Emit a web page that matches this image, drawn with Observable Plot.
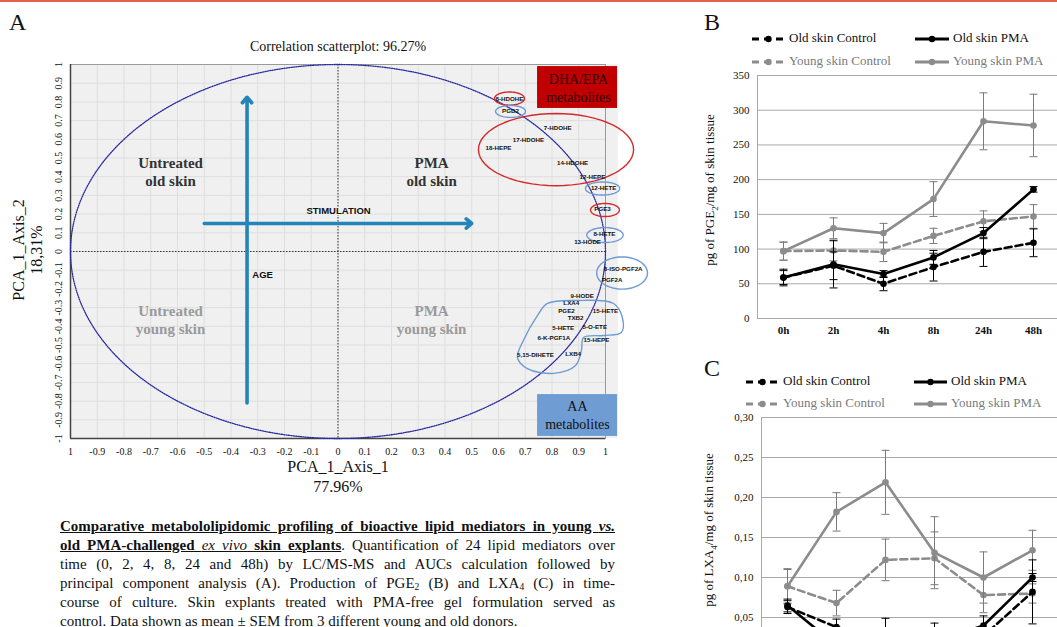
<!DOCTYPE html>
<html><head><meta charset="utf-8">
<script src="https://cdn.jsdelivr.net/npm/d3@7"></script>
<script src="https://cdn.jsdelivr.net/npm/@observablehq/plot@0.6"></script>
<style>
html,body{margin:0;padding:0;background:#fff;}
body{width:1057px;height:627px;overflow:hidden;position:relative;font-family:"Liberation Serif",serif;color:#111;}
.abs{position:absolute;white-space:nowrap;}
.ctr{transform:translateX(-50%);text-align:center;}
.leg{position:absolute;font-size:13px;line-height:14px;white-space:nowrap;}
.leg svg{position:absolute;}
.cap{position:absolute;left:60px;width:555px;font-size:15px;line-height:19px;}
.cap div{text-align:justify;text-align-last:justify;white-space:nowrap;height:19px;}
.cap div.last{text-align-last:left;}
.cap sub{font-size:9.5px;vertical-align:-2px;line-height:0;}
.ttl{font-weight:bold;text-decoration:underline;}
.plotbox{position:absolute;}
</style></head><body>
<div class="abs" style="left:0;top:0;width:1057px;height:2px;background:#e4604e"></div>
<div class="abs" style="left:9px;top:9px;font-size:24px;">A</div>
<div class="abs ctr" style="left:338px;top:39px;font-size:14px;">Correlation scatterplot: 96.27%</div>
<div class="abs" style="left:28px;top:250px;transform:translate(-50%,-50%) rotate(-90deg);font-size:16px;line-height:18px;text-align:center;">PCA_1_Axis_2<br>18,31%</div>
<div class="abs ctr" style="left:338px;top:457px;font-size:16px;line-height:20px;">PCA_1_Axis_1<br>77.96%</div>
<div id="pA" class="plotbox" style="left:0;top:0;width:660px;height:500px;"></div>

<div class="abs" style="left:704px;top:9px;font-size:24px;">B</div>
<div id="legB"></div>
<div class="abs" style="left:711px;top:190px;transform:translate(-50%,-50%) rotate(-90deg);font-size:13px;">pg of PGE<sub style="font-size:9px">2</sub>/mg of skin tissue</div>
<div id="pB" class="plotbox" style="left:700px;top:60px;width:370px;height:300px;"></div>

<div class="abs" style="left:704px;top:355px;font-size:24px;">C</div>
<div id="legC"></div>
<div class="abs" style="left:710px;top:530px;transform:translate(-50%,-50%) rotate(-90deg);font-size:13px;">pg of LXA<sub style="font-size:9px">4</sub>/mg of skin tissue</div>
<div id="pC" class="plotbox" style="left:700px;top:400px;width:360px;height:287px;"></div>

<div class="cap" style="top:517px;">
<div><span class="ttl">Comparative metabololipidomic profiling of bioactive lipid mediators in young <i>vs.</i></span></div>
<div><span class="ttl">old PMA-challenged <i style="font-weight:normal">ex vivo</i> skin explants</span>. Quantification of 24 lipid mediators over</div>
<div>time (0, 2, 4, 8, 24 and 48h) by LC/MS-MS and AUCs calculation followed by</div>
<div>principal component analysis (A). Production of PGE<sub>2</sub> (B) and LXA<sub>4</sub> (C) in time-</div>
<div>course of culture. Skin explants treated with PMA-free gel formulation served as</div>
<div class="last">control. Data shown as mean ± SEM from 3 different young and old donors.</div>
</div>

<script>
// ---------------- Panel A data ----------------
const metaboliteNames = ["8-HDOHE","PGD2","7-HDOHE","17-HDOHE","18-HEPE","14-HDOHE","12-HEPE","12-HETE","PGE3","8-HETE","13-HODE",
  "8-ISO-PGF2A","PGF2A","9-HODE","LXA4","PGE2","TXB2","15-HETE","5-HETE","5-O-ETE","6-K-PGF1A","15-HEPE","5,15-DIHETE","LXB4"];
const metaboliteAxis1 = [0.641,0.645,0.821,0.712,0.600,0.877,0.951,0.993,0.989,0.996,0.933,
  1.066,1.025,0.913,0.872,0.854,0.888,1.000,0.842,0.960,0.807,0.966,0.738,0.879];
const metaboliteAxis2 = [0.813,0.749,0.663,0.594,0.556,0.471,0.396,0.342,0.225,0.091,0.053,
  -0.096,-0.151,-0.239,-0.276,-0.319,-0.357,-0.319,-0.410,-0.405,-0.463,-0.476,-0.556,-0.547];

const pcaTicks = [-1,-0.9,-0.8,-0.7,-0.6,-0.5,-0.4,-0.3,-0.2,-0.1,0,0.1,0.2,0.3,0.4,0.5,0.6,0.7,0.8,0.9,1];
const pcaXTickLabels = ["1","-0.9","-0.8","-0.7","-0.6","-0.5","-0.4","-0.3","-0.2","-0.1","0","0.1","0.2","0.3","0.4","0.5","0.6","0.7","0.8","0.9","1"];
const pcaYTickLabels = ["-1","-0.9","-0.8","-0.7","-0.6","-0.5","-0.4","-0.3","-0.2","-0.1","0","0.1","0.2","0.3","0.4","0.5","0.6","0.7","0.8","0.9","1"];

const quadrantLabels = ["Untreated\nold skin","PMA\nold skin","Untreated\nyoung skin","PMA\nyoung skin"];
const quadrantX = [-0.626, 0.350, -0.626, 0.350];
const quadrantY = [0.428, 0.428, -0.364, -0.364];

const arrowLabels = ["AGE","STIMULATION"];
const arrowX1 = [-0.34, -0.50], arrowY1 = [-0.81, 0.15];
const arrowX2 = [-0.34, 0.50],  arrowY2 = [0.825, 0.15];
const arrowLabelX = [-0.282, 0.002], arrowLabelY = [-0.123, 0.219];

const groupBoxLabels = ["DHA/EPA\nmetabolites","AA\nmetabolites"];
const groupBoxX1 = [0.746, 0.746], groupBoxX2 = [1.045, 1.045];
const groupBoxY1 = [0.989, -0.765], groupBoxY2 = [0.765, -0.989];
const groupBoxTextX = [0.899, 0.895], groupBoxTextY = [0.877, -0.872];

// circled metabolite groups (center, radii in axis units)
const ringGroup = ["DHA","AA","DHA","AA","DHA","AA","AA"];
const ringCx = [0.641, 0.645, 0.815, 0.989, 0.998, 0.998, 1.062];
const ringCy = [0.818, 0.749, 0.545, 0.337, 0.222, 0.088, -0.115];
const ringRx = [0.056, 0.056, 0.290, 0.064, 0.054, 0.068, 0.095];
const ringRy = [0.035, 0.032, 0.193, 0.035, 0.035, 0.040, 0.086];
// outline of the AA cluster
const blobX = [0.783,0.895,1.030,1.063,1.059,0.993,0.918,0.910,0.888,0.806,0.708,0.671,0.693,0.746];
const blobY = [-0.278,-0.262,-0.278,-0.353,-0.433,-0.449,-0.460,-0.529,-0.610,-0.652,-0.626,-0.567,-0.476,-0.342];

// ---------------- Panels B & C data ----------------
const timepoints = ["0h","2h","4h","8h","24h","48h"];
const seriesNames = ["Young skin Control","Young skin PMA","Old skin Control","Old skin PMA"];

const pge2YoungControl = [97, 98, 96, 119, 140, 147];
const pge2YoungControlSem = [13, 15, 14, 11, 15, 17];
const pge2YoungPMA = [97, 130, 123, 172, 284, 278];
const pge2YoungPMASem = [13, 15, 14, 25, 41, 45];
const pge2OldControl = [59, 76, 50, 74, 96, 109];
const pge2OldControlSem = [12, 20, 10, 20, 21, 20];
const pge2OldPMA = [59, 78, 64, 88, 123, 186];
const pge2OldPMASem = [10, 34, 5, 10, 8, 4];

const lxa4YoungControl = [0.089, 0.068, 0.122, 0.124, 0.078, 0.080];
const lxa4YoungControlSem = [0.022, 0.016, 0.026, 0.033, 0.022, 0.012];
const lxa4YoungPMA = [0.089, 0.182, 0.219, 0.131, 0.100, 0.134];
const lxa4YoungPMASem = [0.021, 0.024, 0.040, 0.045, 0.032, 0.025];
const lxa4OldControl = [0.063, 0.038, 0.022, 0.022, 0.027, 0.082];
const lxa4OldControlSem = [0.008, 0.010, 0.027, 0.010, 0.010, 0.040];
const lxa4OldPMA = [0.065, 0.015, 0.020, 0.020, 0.040, 0.100];
const lxa4OldPMASem = [0.008, 0.010, 0.015, 0.023, 0.012, 0.005];

const pge2Ticks = [0, 50, 100, 150, 200, 250, 300, 350];
const pge2TickLabels = ["0","50","100","150","200","250","300","350"];
const lxa4Ticks = [0.05, 0.10, 0.15, 0.20, 0.25, 0.30];
const lxa4TickLabels = ["0,05","0,10","0,15","0,20","0,25","0,30"];

// ---------------- styles ----------------
const GRAY = "#8c8c8c";
const seriesStyle = {
  "Young skin Control": {stroke: GRAY, dash: "7,4", text: "#7a7a7a"},
  "Young skin PMA": {stroke: GRAY, dash: null, text: "#7a7a7a"},
  "Old skin Control": {stroke: "#000", dash: "7,4", text: "#111"},
  "Old skin PMA": {stroke: "#000", dash: null, text: "#111"}
};
const SERIF = "Liberation Serif";

// ---------------- Panel A ----------------
const metabolites = metaboliteNames.map((n, i) => ({name: n, x: metaboliteAxis1[i], y: metaboliteAxis2[i]}));
const unitCircle = d3.range(0, 361, 1).map(a => ({x: Math.cos(a * Math.PI / 180), y: Math.sin(a * Math.PI / 180)}));
const rings = ringCx.map((cx, i) => ({
  group: ringGroup[i],
  pts: d3.range(0, 361, 6).map(a => ({x: cx + ringRx[i] * Math.cos(a * Math.PI / 180), y: ringCy[i] + ringRy[i] * Math.sin(a * Math.PI / 180)}))
}));
const blob = blobX.map((x, i) => ({x, y: blobY[i]}));
const arrows = arrowX1.map((x1, i) => ({x1, y1: arrowY1[i], x2: arrowX2[i], y2: arrowY2[i], label: arrowLabels[i], lx: arrowLabelX[i], ly: arrowLabelY[i]}));
const boxes = groupBoxLabels.map((t, i) => ({t, x1: groupBoxX1[i], x2: groupBoxX2[i], y1: groupBoxY1[i], y2: groupBoxY2[i], tx: groupBoxTextX[i], ty: groupBoxTextY[i]}));
const quads = quadrantLabels.map((t, i) => ({t, x: quadrantX[i], y: quadrantY[i], young: i >= 2}));
const plotAreaExtension = [{x1: 1, x2: 1.048, y1: -1, y2: 1}];

const ringColor = {DHA: "#d42a2a", AA: "#6d9bd6"};

const pA = Plot.plot({
  width: 660, height: 500,
  marginLeft: 70, marginRight: 55, marginTop: 64, marginBottom: 62,
  x: {domain: [-1, 1], axis: null},
  y: {domain: [-1, 1], axis: null},
  style: {background: "transparent", overflow: "visible", fontFamily: SERIF},
  marks: [
    Plot.frame({fill: "#f0f0f0"}),
    Plot.rect(plotAreaExtension, {x1: "x1", x2: "x2", y1: "y1", y2: "y2", fill: "#f0f0f0"}),
    Plot.gridX(pcaTicks, {stroke: "#dedede", strokeOpacity: 1}),
    Plot.gridY(pcaTicks, {stroke: "#dedede", strokeOpacity: 1}),
    Plot.frame({stroke: "#9a9a9a"}),
    Plot.ruleX([-1], {stroke: "#444", strokeWidth: 1.5}),
    Plot.ruleY([-1], {stroke: "#444", strokeWidth: 1.5}),
    Plot.ruleX([0], {stroke: "#333", strokeDasharray: "1.5,1.5"}),
    Plot.ruleY([0], {stroke: "#333", strokeDasharray: "1.5,1.5"}),
    Plot.line(unitCircle, {x: "x", y: "y", stroke: "#2b2ba0", strokeWidth: 1.3, strokeDasharray: "1.2,1.2"}),
    Plot.rect(boxes, {x1: "x1", x2: "x2", y1: "y1", y2: "y2", fill: (d, i) => i === 0 ? "#c00000" : "#6f9dd3"}),
    Plot.text(boxes, {x: "tx", y: "ty", text: "t", fontSize: 14, lineHeight: 1.25, fill: (d, i) => i === 0 ? "#2a0000" : "#111", fontFamily: SERIF}),
    Plot.arrow(arrows, {x1: "x1", y1: "y1", x2: "x2", y2: "y2", stroke: "#2484ba", strokeWidth: 3.6, headLength: 3, headAngle: 80}),
    Plot.text(arrows, {x: "lx", y: "ly", text: "label", fontSize: 9.5, fontWeight: "bold", fontFamily: "Liberation Sans", fill: "#111", stroke: "#f0f0f0", strokeWidth: 2, paintOrder: "stroke"}),
    Plot.text(quads, {x: "x", y: "y", text: "t", fontSize: 15, fontWeight: "bold", lineHeight: 1.2, fontFamily: SERIF, fill: d => d.young ? "#9a9a9a" : "#333"}),
    ...rings.map(r => Plot.line(r.pts, {x: "x", y: "y", stroke: ringColor[r.group], strokeWidth: 1.4})),
    Plot.line(blob, {x: "x", y: "y", curve: "catmull-rom-closed", stroke: ringColor.AA, strokeWidth: 1.4}),
    Plot.text(metabolites, {x: "x", y: "y", text: "name", fontSize: 6.2, fontWeight: "bold", fontFamily: "Liberation Sans", fill: "#111"}),
    Plot.text(pcaTicks, {x: d => d, y: () => -1, text: (d, i) => pcaXTickLabels[i], dy: 13, fontSize: 10, fontFamily: SERIF, fill: "#111"}),
    Plot.text(pcaTicks, {x: () => -1, y: d => d, text: (d, i) => pcaYTickLabels[i], dx: -12, rotate: -90, fontSize: 10, fontFamily: SERIF, fill: "#111"})
  ]
});
document.getElementById("pA").appendChild(pA);

// ---------------- Panels B & C ----------------
function rows(values, sems) {
  return timepoints.map((t, i) => ({time: t, value: values[i], lo: values[i] - sems[i], hi: values[i] + sems[i]}));
}
const capSymbol = {draw(ctx, size) { const r = Math.sqrt(size / Math.PI); ctx.moveTo(-r, 0); ctx.lineTo(r, 0); }};

function seriesMarks(name, data) {
  const s = seriesStyle[name];
  const errColor = s.stroke === "#000" ? "#000" : "#7a7a7a";
  return [
    Plot.ruleX(data, {x: "time", y1: "lo", y2: "hi", stroke: errColor, strokeWidth: 1}),
    Plot.dot(data, {x: "time", y: "hi", symbol: capSymbol, r: 4, stroke: errColor, fill: "none", strokeWidth: 1}),
    Plot.dot(data, {x: "time", y: "lo", symbol: capSymbol, r: 4, stroke: errColor, fill: "none", strokeWidth: 1}),
    Plot.line(data, {x: "time", y: "value", stroke: s.stroke, strokeWidth: 2.6, strokeDasharray: s.dash}),
    Plot.dot(data, {x: "time", y: "value", r: 3.3, fill: s.stroke})
  ];
}

function linePanel(opts) {
  return Plot.plot({
    width: opts.width, height: opts.height,
    marginLeft: opts.ml, marginRight: opts.mr, marginTop: opts.mt, marginBottom: opts.mb,
    style: {background: "transparent", overflow: "visible", fontFamily: SERIF, fontSize: "11px", color: "#111"},
    x: {type: "point", domain: timepoints, padding: 0.5, align: 0.5, axis: null},
    y: {domain: opts.yDomain, axis: null},
    marks: [
      Plot.ruleY(opts.yTicks.filter(d => d > 0), {stroke: "#a9a9a9", strokeWidth: 1}),
      Plot.frame({stroke: "#a9a9a9"}),
      Plot.axisY(opts.yTicks, {tickSize: 0, tickPadding: 8, tickFormat: (d, i) => opts.yTickLabels[i], fontSize: 11, fontFamily: SERIF, label: null}),
      opts.showX ? Plot.axisX({tickSize: 0, tickPadding: 8, fontSize: 11, fontWeight: "bold", fontFamily: SERIF, label: null}) : null,
      ...opts.series.flatMap(([name, data]) => seriesMarks(name, data))
    ]
  });
}

const pB = linePanel({
  width: 370, height: 300, ml: 57, mr: 12, mt: 15, mb: 42,
  yDomain: [0, 350], yTicks: pge2Ticks, yTickLabels: pge2TickLabels, showX: true,
  series: [
    ["Young skin Control", rows(pge2YoungControl, pge2YoungControlSem)],
    ["Young skin PMA", rows(pge2YoungPMA, pge2YoungPMASem)],
    ["Old skin Control", rows(pge2OldControl, pge2OldControlSem)],
    ["Old skin PMA", rows(pge2OldPMA, pge2OldPMASem)]
  ]
});
document.getElementById("pB").appendChild(pB);

const pC = linePanel({
  width: 360, height: 287, ml: 61, mr: 3, mt: 17, mb: 30,
  yDomain: [0, 0.30], yTicks: lxa4Ticks, yTickLabels: lxa4TickLabels, showX: false,
  series: [
    ["Young skin Control", rows(lxa4YoungControl, lxa4YoungControlSem)],
    ["Young skin PMA", rows(lxa4YoungPMA, lxa4YoungPMASem)],
    ["Old skin Control", rows(lxa4OldControl, lxa4OldControlSem)],
    ["Old skin PMA", rows(lxa4OldPMA, lxa4OldPMASem)]
  ]
});
document.getElementById("pC").appendChild(pC);

// ---------------- Legends ----------------
function legend(containerId, row1Y, row2Y, sampleX1, textX1, sampleX2, textX2) {
  const el = document.getElementById(containerId);
  const layout = [
    ["Old skin Control", sampleX1, textX1, row1Y],
    ["Old skin PMA", sampleX2, textX2, row1Y],
    ["Young skin Control", sampleX1, textX1, row2Y],
    ["Young skin PMA", sampleX2, textX2, row2Y]
  ];
  for (const [name, sx, tx, cy] of layout) {
    const s = seriesStyle[name];
    const w = tx - sx - 4;
    const svg = d3.create("svg").attr("width", w).attr("height", 10)
      .style("position", "absolute").style("left", sx + "px").style("top", (cy - 5) + "px");
    svg.append("line").attr("x1", 0).attr("x2", w).attr("y1", 5).attr("y2", 5)
      .attr("stroke", s.stroke).attr("stroke-width", 3).attr("stroke-dasharray", s.dash ? "7,5" : null);
    svg.append("circle").attr("cx", w / 2).attr("cy", 5).attr("r", 3.2).attr("fill", s.stroke);
    el.appendChild(svg.node());
    const t = document.createElement("div");
    t.className = "leg";
    t.style.left = tx + "px"; t.style.top = (cy - 8) + "px"; t.style.color = s.text;
    t.textContent = name;
    el.appendChild(t);
  }
}
legend("legB", 39, 62, 752, 789, 915, 953);
legend("legC", 382, 404, 746, 783, 914, 951);
</script>
</body></html>
